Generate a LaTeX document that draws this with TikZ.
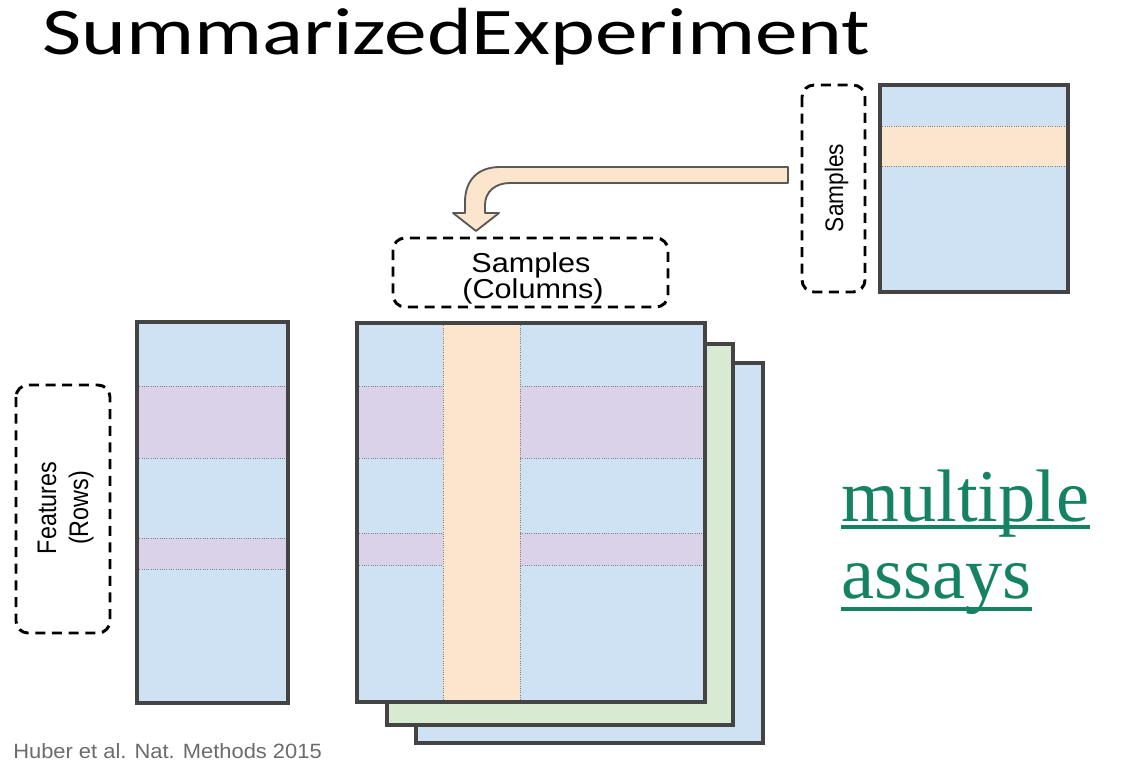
\documentclass[tikz,border=0pt]{standalone}
\usepackage{fontspec}
\setmainfont{Liberation Sans}
\newfontfamily\titlefont{Carlito}
\newfontfamily\seriffont{Liberation Serif}
\definecolor{mblue}{HTML}{CFE2F3}
\definecolor{mpurple}{HTML}{D9D2E9}
\definecolor{mpeach}{HTML}{FCE5CD}
\definecolor{mgreen}{HTML}{D9EAD3}
\definecolor{mborder}{HTML}{444444}
\definecolor{assaygreen}{HTML}{168264}
\definecolor{citegray}{HTML}{6B6B6B}
\tikzset{
  matborder/.style={draw=mborder, line width=3pt},
  bandline/.style={draw=gray, densely dotted, line width=0.7pt},
  dbox/.style={draw=black, line width=2.2pt, dash pattern=on 7.5pt off 5pt, rounded corners=9pt},
  arrowshape/.style={draw=black!65, fill=mpeach, line width=1.4pt, line join=round},
  lbl/.style={inner sep=0pt, font=\fontsize{20.5}{24}\selectfont},
  rlbl/.style={inner sep=0pt, rotate=90, anchor=base, font=\fontsize{17.5}{21}\selectfont},
}
\begin{document}
\begin{tikzpicture}[x=0.75pt,y=-0.75pt]
\useasboundingbox (0,0) rectangle (1130,774);

% title
\node[anchor=base west, inner sep=0pt] (title) at (42,55)
  {\titlefont\fontsize{50}{60}\selectfont\scalebox{1.28}[1]{SummarizedExperiment}};

% ---------- top right sample matrix ----------
\fill[mblue] (880,85) rectangle (1068,292);
\fill[mpeach] (880,126) rectangle (1068,166);
\draw[bandline] (880,126) -- (1068,126) (880,166) -- (1068,166);
\draw[matborder] (880,85) rectangle (1068,292);
\draw[dbox] (802,85) rectangle (865,292);
\node[rlbl, font=\fontsize{17}{20}\selectfont] (samplesr) at (843,188) {\scalebox{1}[1.12]{Samples}};

% ---------- arrow ----------
\draw[arrowshape] (788,167) -- (500,167) .. controls (478,167) and (465,180) .. (465,202)
  -- (465,213) -- (453,213) -- (476,231) -- (499,213) -- (485,213) -- (485,205)
  .. controls (485,192) and (495,183) .. (510,183) -- (788,183) -- cycle;

% ---------- Samples (Columns) ----------
\draw[dbox] (393,238) rectangle (668,307);
\node[lbl, anchor=base] (scol1) at (531,272) {\scalebox{1.12}[1]{Samples}};
\node[lbl, anchor=base] (scol2) at (533,298) {\scalebox{1.12}[1]{(Columns)}};

% ---------- left feature matrix ----------
\fill[mblue] (137,322) rectangle (288,703);
\fill[mpurple] (137,386) rectangle (288,458);
\fill[mpurple] (137,538) rectangle (288,569);
\draw[bandline] (137,386) -- (288,386) (137,458) -- (288,458)
                (137,538) -- (288,538) (137,569) -- (288,569);
\draw[matborder] (137,322) rectangle (288,703);
\draw[dbox] (16,385) rectangle (110,633);
\node[rlbl] (feat1) at (56,508) {\scalebox{1}[1.15]{Features}};
\node[rlbl] (feat2) at (88,508) {\scalebox{1}[1.15]{(Rows)}};

% ---------- stacked assay matrices ----------
\filldraw[fill=mblue, matborder] (416,363) rectangle (763,743);
\filldraw[fill=mgreen, matborder] (387,344) rectangle (733,725);
\fill[mblue] (357,323) rectangle (705,702);
\fill[mpurple] (357,386) rectangle (705,458);
\fill[mpurple] (357,533) rectangle (705,565);
\fill[mpeach] (443,323) rectangle (520,702);
\draw[bandline] (357,386) -- (443,386) (520,386) -- (705,386)
                (357,458) -- (443,458) (520,458) -- (705,458)
                (357,533) -- (443,533) (520,533) -- (705,533)
                (357,565) -- (443,565) (520,565) -- (705,565)
                (443,323) -- (443,702) (520,323) -- (520,702);
\draw[matborder] (357,323) rectangle (705,702);

% ---------- multiple assays ----------
\node[anchor=base west, inner sep=0pt, text=assaygreen] (mult) at (841,521)
  {\seriffont\fontsize{55.8}{60}\selectfont multiple};
\node[anchor=base west, inner sep=0pt, text=assaygreen] (assays) at (841,598)
  {\seriffont\fontsize{55.8}{60}\selectfont assays};
\draw[assaygreen, line width=3pt] ([yshift=-4.5pt]mult.base west) -- ([yshift=-4.5pt]mult.base east);
\draw[assaygreen, line width=3pt] ([yshift=-8pt]assays.base west) -- ([yshift=-8pt]assays.base east);

% ---------- citation ----------
\node[anchor=base west, inner sep=0pt, text=citegray] (cite) at (13,758)
  {\fontsize{15.5}{18}\selectfont\scalebox{1.06}[1]{Huber et al. Nat. Methods 2015}};
\end{tikzpicture}
\end{document}
